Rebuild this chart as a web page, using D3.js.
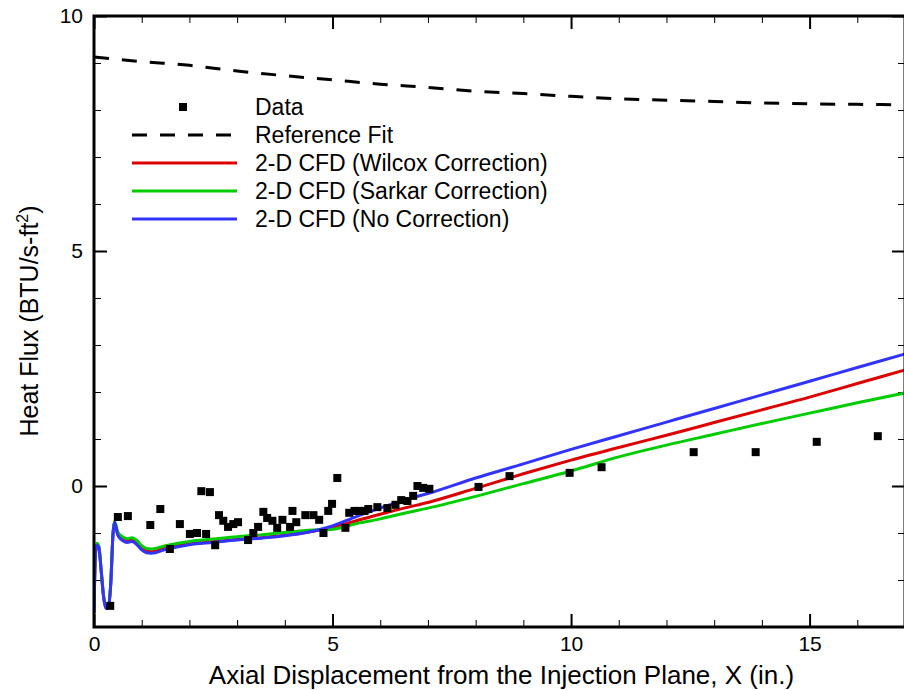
<!DOCTYPE html>
<html>
<head>
<meta charset="utf-8">
<script src="https://cdn.jsdelivr.net/npm/d3@7"></script>
<style>
  body { margin: 0; background: #fff; }
  svg { display: block; font-family: "Liberation Sans", Arial, sans-serif; }
</style>
</head>
<body>
<div class="content"></div>
<script>
var size = {width: 904, height: 690};
var padding = {left: 94, right: -1, top: 16, bottom: 63};

// measured data points
var dataX = [0.34, 0.50, 0.71, 1.18, 1.39, 1.59, 1.80, 2.01, 2.16, 2.25, 2.43, 2.35, 2.54, 2.62, 2.71, 2.81, 2.92, 3.02,
    3.23, 3.34, 3.44, 3.55, 3.63, 3.74, 3.84, 3.95, 4.11, 4.16, 4.24, 4.43, 4.60, 4.72, 4.81, 4.91, 4.99, 5.10,
    5.27, 5.35, 5.46, 5.56, 5.67, 5.75, 5.94, 6.15, 6.32, 6.44, 6.57, 6.69, 6.78, 6.90, 7.03,
    8.06, 8.71, 9.97, 10.64, 12.57, 13.87, 15.15, 16.43];
var dataY = [-2.55, -0.66, -0.64, -0.83, -0.49, -1.34, -0.81, -1.02, -1.00, -0.11, -0.13, -1.02, -1.26, -0.62, -0.74, -0.87, -0.81, -0.77,
    -1.15, -1.00, -0.87, -0.55, -0.68, -0.74, -0.89, -0.72, -0.87, -0.53, -0.77, -0.62, -0.62, -0.72, -1.00, -0.53, -0.38, 0.17,
    -0.89, -0.57, -0.53, -0.53, -0.53, -0.49, -0.45, -0.47, -0.40, -0.30, -0.32, -0.21, 0.00, -0.04, -0.06,
    -0.02, 0.21, 0.28, 0.40, 0.72, 0.72, 0.94, 1.06];

// reference fit
var fitX = [0, 1, 2, 3, 4, 5, 6, 7, 8, 9, 10, 11, 12, 13, 14, 15, 16, 17];
var fitY = [9.13, 9.03, 8.95, 8.83, 8.73, 8.64, 8.55, 8.48, 8.40, 8.35, 8.29, 8.24, 8.21, 8.18, 8.15, 8.13, 8.12, 8.11];

// 2-D CFD results
var cfdX = [0, 0.03, 0.06, 0.1, 0.15, 0.2, 0.25, 0.3, 0.35, 0.4, 0.43, 0.5, 0.6, 0.7, 0.8, 0.9, 1.0, 1.1, 1.2, 1.5,
    2, 2.5, 3, 3.5, 4, 4.5, 5, 5.5, 6, 6.5, 7, 8, 9, 10, 11, 12, 13, 14, 15, 16, 17];
var wilcox = [-2.7, -1.45, -1.26, -1.3, -1.8, -2.35, -2.6, -2.58, -2.1, -1.0, -0.77, -1.03, -1.13, -1.17, -1.15, -1.22, -1.33, -1.39, -1.40, -1.32,
    -1.23, -1.18, -1.14, -1.10, -1.05, -0.98, -0.88, -0.74, -0.60, -0.47, -0.35, -0.05, 0.26, 0.55, 0.82, 1.08, 1.35, 1.62, 1.89, 2.18, 2.47];
var sarkar = [-2.68, -1.4, -1.22, -1.27, -1.78, -2.33, -2.58, -2.56, -2.08, -0.98, -0.75, -0.98, -1.08, -1.12, -1.10, -1.16, -1.27, -1.33, -1.34, -1.27,
    -1.18, -1.13, -1.08, -1.04, -0.99, -0.94, -0.92, -0.80, -0.70, -0.58, -0.47, -0.22, 0.05, 0.32, 0.62, 0.87, 1.10, 1.33, 1.55, 1.77, 1.98];
var noCorr = [-2.7, -1.45, -1.26, -1.3, -1.8, -2.35, -2.6, -2.58, -2.1, -1.0, -0.77, -1.05, -1.16, -1.2, -1.18, -1.25, -1.36, -1.42, -1.43, -1.35,
    -1.25, -1.2, -1.15, -1.11, -1.06, -0.98, -0.85, -0.65, -0.47, -0.30, -0.16, 0.17, 0.47, 0.78, 1.07, 1.36, 1.65, 1.94, 2.23, 2.52, 2.81];

var xMajor = [0, 5, 10, 15];
var yMajor = [0, 5, 10];
var xTitle = "Axial Displacement from the Injection Plane, X (in.)";

var legendItems = [
    {label: "Data", kind: "point"},
    {label: "Reference Fit", kind: "dash", color: "#000"},
    {label: "2-D CFD (Wilcox Correction)", kind: "line", color: "#dd0000"},
    {label: "2-D CFD (Sarkar Correction)", kind: "line", color: "#00cc00"},
    {label: "2-D CFD (No Correction)", kind: "line", color: "#3333ff"}
];

var chart = d3.select('.content')
    .append('svg')
    .attr('width', size.width)
    .attr('height', size.height);

var x0 = padding.left, x1 = size.width - padding.right;
var y0 = size.height - padding.bottom, y1 = padding.top;

chart.append('defs').append('clipPath')
    .attr('id', 'clipper')
    .append('rect')
    .attr('x', x0).attr('y', y1)
    .attr('width', x1 - x0).attr('height', y0 - y1);

var xScale = d3.scaleLinear().domain([0, 17]).range([x0, x1]);
var yScale = d3.scaleLinear().domain([-3, 10]).range([y0, y1]);

var xMinor = d3.range(0, 18).filter(function(d) { return d % 5 !== 0; });
var yMinor = d3.range(-3, 11).filter(function(d) { return d % 5 !== 0; });

function styleAxis(g, w) {
    g.select('.domain').remove();
    g.selectAll('.tick line').attr('stroke', '#000').attr('stroke-width', w);
}

// bottom axis with labels
var xAxisObj = chart.append('g')
    .attr('transform', 'translate(0,' + y0 + ')')
    .call(d3.axisBottom(xScale).tickValues(xMajor).tickSize(-13).tickPadding(5).tickFormat(d3.format('d')));
styleAxis(xAxisObj, 2);
xAxisObj.selectAll('text').attr('font-size', 21).attr('fill', '#000').attr('dy', '0.9em');
chart.append('g').attr('transform', 'translate(0,' + y0 + ')')
    .call(d3.axisBottom(xScale).tickValues(xMinor).tickSize(-7).tickFormat(''))
    .call(styleAxis, 1);

// top axis
chart.append('g').attr('transform', 'translate(0,' + y1 + ')')
    .call(d3.axisTop(xScale).tickValues(xMajor).tickSize(-13).tickFormat(''))
    .call(styleAxis, 2);
chart.append('g').attr('transform', 'translate(0,' + y1 + ')')
    .call(d3.axisTop(xScale).tickValues(xMinor).tickSize(-7).tickFormat(''))
    .call(styleAxis, 1);

// left axis with labels
var yAxisObj = chart.append('g')
    .attr('transform', 'translate(' + x0 + ',0)')
    .call(d3.axisLeft(yScale).tickValues(yMajor).tickSize(-13).tickPadding(11).tickFormat(d3.format('d')));
styleAxis(yAxisObj, 2);
yAxisObj.selectAll('text').attr('font-size', 21).attr('fill', '#000');
chart.append('g').attr('transform', 'translate(' + x0 + ',0)')
    .call(d3.axisLeft(yScale).tickValues(yMinor).tickSize(-7).tickFormat(''))
    .call(styleAxis, 1);

// right axis
chart.append('g').attr('transform', 'translate(' + x1 + ',0)')
    .call(d3.axisRight(yScale).tickValues(yMajor).tickSize(-13).tickFormat(''))
    .call(styleAxis, 2);
chart.append('g').attr('transform', 'translate(' + x1 + ',0)')
    .call(d3.axisRight(yScale).tickValues(yMinor).tickSize(-7).tickFormat(''))
    .call(styleAxis, 1);

var main = chart.append('g').attr('clip-path', 'url(#clipper)');

var line = d3.line()
    .x(function(d) { return xScale(d[0]); })
    .y(function(d) { return yScale(d[1]); })
    .curve(d3.curveMonotoneX);

main.append('path')
    .datum(fitX.map(function(d, i) { return [d, fitY[i]]; }))
    .attr('d', line)
    .attr('fill', 'none')
    .attr('stroke', '#000')
    .attr('stroke-width', 3)
    .attr('stroke-dasharray', '15,13');

[[wilcox, '#dd0000'], [sarkar, '#00cc00'], [noCorr, '#3333ff']].forEach(function(s) {
    main.append('path')
        .datum(cfdX.map(function(d, i) { return [d, s[0][i]]; }))
        .attr('d', line)
        .attr('fill', 'none')
        .attr('stroke', s[1])
        .attr('stroke-width', 3)
        .attr('stroke-linejoin', 'round');
});

main.selectAll('rect.pt')
    .data(dataX.map(function(d, i) { return [d, dataY[i]]; }))
    .enter().append('rect')
    .attr('class', 'pt')
    .attr('x', function(d) { return xScale(d[0]) - 4; })
    .attr('y', function(d) { return yScale(d[1]) - 4; })
    .attr('width', 8)
    .attr('height', 8)
    .attr('fill', '#000');

// frame
chart.append('path')
    .attr('d', 'M' + x0 + ',' + y1 + 'H' + x1 + 'V' + y0 + 'H' + x0 + 'Z')
    .attr('fill', 'none')
    .attr('stroke', '#000')
    .attr('stroke-width', 3);

// legend
var legend = chart.append('g').attr('transform', 'translate(132,107)');
legendItems.forEach(function(item, i) {
    var g = legend.append('g').attr('transform', 'translate(0,' + (i * 28) + ')');
    if (item.kind === 'point') {
        g.append('rect').attr('x', 47).attr('y', -4).attr('width', 8).attr('height', 8).attr('fill', '#000');
    } else {
        g.append('line').attr('x1', 0).attr('x2', 105).attr('y1', 0).attr('y2', 0)
            .attr('stroke', item.color).attr('stroke-width', 3)
            .attr('stroke-dasharray', item.kind === 'dash' ? '15,13' : null);
    }
    g.append('text').attr('x', 123).attr('dy', '0.35em')
        .attr('font-size', 23).attr('fill', '#000').text(item.label);
});

// axis titles
chart.append('text')
    .attr('x', (x0 + x1) / 2 + 2).attr('y', 684)
    .attr('text-anchor', 'middle').attr('font-size', 26).attr('fill', '#000')
    .text(xTitle);

var yt = chart.append('text')
    .attr('transform', 'translate(38,' + 321 + ') rotate(-90)')
    .attr('text-anchor', 'middle').attr('font-size', 25).attr('fill', '#000');
yt.append('tspan').text('Heat Flux (BTU/s-ft');
yt.append('tspan').attr('font-size', 16).attr('dy', -10).text('2');
yt.append('tspan').attr('dy', 10).text(')');
</script>
</body>
</html>
